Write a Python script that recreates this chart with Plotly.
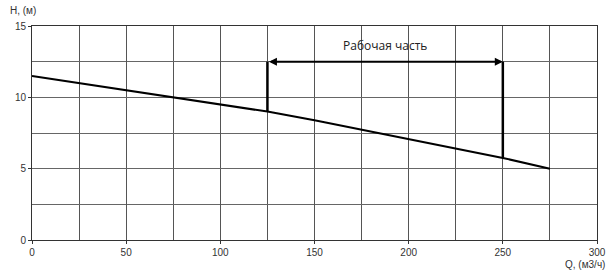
import plotly.graph_objects as go

# Data
q_values = [0, 25, 50, 75, 100, 125, 150, 175, 200, 225, 250, 275]
h_values = [11.5, 11.0, 10.5, 10.0, 9.5, 9.0, 8.4, 7.75, 7.1, 6.45, 5.75, 5.0]
work_q = [125, 250]
work_h_bottom = [9.0, 5.75]
work_h_top = 12.5
work_label = "Рабочая часть"
x_ticks = [0, 50, 100, 150, 200, 250, 300]
y_ticks = [0, 5, 10, 15]

fig = go.Figure()
fig.add_trace(go.Scatter(x=q_values, y=h_values, mode="lines",
                         line=dict(color="black", width=2), showlegend=False,
                         hoverinfo="skip"))
for q, hb in zip(work_q, work_h_bottom):
    fig.add_trace(go.Scatter(x=[q, q], y=[hb, work_h_top], mode="lines",
                             line=dict(color="black", width=2.5), showlegend=False,
                             hoverinfo="skip"))

fig.add_annotation(x=work_q[1], y=work_h_top, ax=work_q[0], ay=work_h_top,
                   xref="x", yref="y", axref="x", ayref="y", text="",
                   showarrow=True, arrowhead=2, arrowsize=0.8, arrowwidth=2,
                   arrowside="end+start", arrowcolor="black", standoff=0, startstandoff=0)
fig.add_annotation(x=(work_q[0] + work_q[1]) / 2, y=13.65, xref="x", yref="y",
                   text=work_label, showarrow=False,
                   font=dict(family="Open Sans", size=12, color="#222"))

fig.add_annotation(x=0, y=1, xref="paper", yref="paper", xanchor="center", yanchor="bottom",
                   xshift=-9, yshift=8, text="H, (м)", showarrow=False,
                   font=dict(family="Liberation Sans", size=10, color="#333"))
fig.add_annotation(x=1, y=0, xref="paper", yref="paper", xanchor="right", yanchor="top",
                   xshift=10, yshift=-17, text="Q, (м3/ч)", showarrow=False,
                   font=dict(family="Liberation Sans", size=10, color="#333"))

grid_color = "#555"
fig.update_xaxes(range=[0, 300], tickvals=x_ticks, showgrid=True, gridcolor=grid_color,
                 gridwidth=1, minor=dict(dtick=25, tick0=0, showgrid=True,
                                         gridcolor=grid_color, gridwidth=1),
                 ticks="outside", ticklen=3, tickcolor="#333",
                 showline=True, linecolor="#333", linewidth=1, mirror=True,
                 zeroline=False, automargin=False,
                 tickfont=dict(family="Liberation Sans", size=10, color="#333"))
fig.update_yaxes(range=[0, 15], tickvals=y_ticks, showgrid=True, gridcolor="#666",
                 gridwidth=1, minor=dict(dtick=2.5, tick0=0, showgrid=True,
                                         gridcolor="#666", gridwidth=1),
                 ticks="outside", ticklen=3, tickcolor="#333",
                 showline=True, linecolor="#333", linewidth=1, mirror=True,
                 zeroline=False, automargin=False,
                 tickfont=dict(family="Liberation Sans", size=10, color="#333"))

fig.update_layout(width=610, height=272, margin=dict(l=32, r=13, t=26, b=32),
                  plot_bgcolor="white", paper_bgcolor="white")
fig.write_html("out.html")
